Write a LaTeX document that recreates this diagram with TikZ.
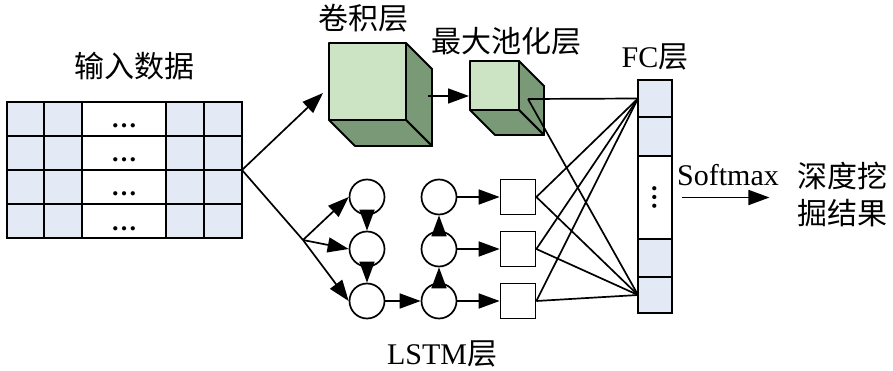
\documentclass[tikz,border=0pt]{standalone}
\usepackage{fontspec}
\setmainfont{Liberation Serif}
\newfontfamily\cjk{Noto Sans CJK SC}
\usetikzlibrary{arrows.meta, positioning}
\definecolor{colCell}{RGB}{227,234,246}
\definecolor{colFront}{RGB}{204,228,196}
\definecolor{colSide}{RGB}{122,153,118}

\begin{document}
\begin{tikzpicture}[
  x=1pt, y=-1pt,
  font=\fontsize{30}{37}\selectfont,
  arr/.style={-{Triangle[length=21pt, width=15pt]}, line width=1.7pt},
  link/.style={line width=1.7pt},
  cellbox/.style={draw, line width=2pt, fill=colCell, inner sep=0pt, outer sep=0pt},
  cellgap/.style={cellbox, fill=white},
  unit/.style={draw, circle, line width=1.7pt, minimum size=35pt, inner sep=0pt, fill=white},
  outbox/.style={draw, line width=1.7pt, minimum size=35pt, inner sep=0pt, fill=white},
  face/.style={draw, line width=1.9pt, line join=round},
  cn/.style={font=\fontsize{30}{37}\selectfont\cjk},
  dots/.style={font=\fontsize{26}{26}\selectfont\bfseries},
]
\useasboundingbox (0,0) rectangle (893,371);

% Input table
\foreach \r in {1,...,4} {
  \foreach \c/\x/\w in {1/25.5/37, 2/63/38, 4/185/38, 5/223/38} {
    \node[cellbox, minimum width=\w pt, minimum height=34pt] (in-\r-\c) at (\x, 85+34*\r) {};
  }
  \node[cellgap, minimum width=84pt, minimum height=34pt] (in-\r-3) at (124, 85+34*\r) {};
  \node[dots, anchor=base] at (124, 94+34*\r) {…};
}
\node[cn] (in-label) at (134,66) {输入数据};

% Conv and pooling cubes
\foreach \nm/\x/\y/\s/\d in {conv/329/43/77/26, pool/470/61/49/25} {
  \draw[face, fill=colSide] (\x+\s,\y) -- ++(\d,\d) -- ++(0,\s) -- ++(-\d,-\d) -- cycle;
  \draw[face, fill=colSide] (\x,\y+\s) -- ++(\s,0) -- ++(\d,\d) -- ++(-\s,0) -- cycle;
  \node[face, fill=colFront, minimum size=\s pt, inner sep=0pt, outer sep=0pt] (\nm) at (\x+\s/2, \y+\s/2) {};
}
\node[cn] (conv-label) at (363,18) {卷积层};
\node[cn] (pool-label) at (506,41) {最大池化层};
\coordinate (conv-in) at (323,93);
\coordinate (conv-out) at (428,96);
\coordinate (pool-in) at (469,96);
\coordinate (pool-out) at (528,99);

% LSTM units
\foreach \i/\y in {1/197, 2/249, 3/301} {
  \node[unit] (a\i) at (367,\y) {};
  \node[unit] (b\i) at (439,\y) {};
  \node[outbox] (s\i) at (518,\y) {};
}
\coordinate (split) at (303,240);
\node (lstm-label) at (442,354) {LSTM{\cjk 层}};

% FC column
\foreach \i/\y/\h in {1/98.5/37, 2/136.5/39, 4/258/38, 5/295/36} {
  \node[cellbox, minimum width=34pt, minimum height=\h pt] (fc\i) at (655,\y) {};
}
\node[cellgap, minimum width=34pt, minimum height=83pt] (fc3) at (655,197.5) {};
\node[dots, rotate=90] at (fc3) {…};
\node (fc-label) at (655,57) {FC{\cjk 层}};

% Output
\node[cn, align=center] (result) at (842,194) {深度挖\\掘结果};
\node (softmax) at (728,175) {Softmax};

% Connectors
\draw[link] (in-2-5.south east) -- (split);
\draw[arr] (in-2-5.south east) -- (conv-in);
\draw[arr] (conv-out) -- (pool-in);
\foreach \i in {1,2,3} {
  \draw[arr] (split) -- (a\i.west);
  \draw[arr] (b\i) -- (s\i);
}
\draw[arr] (a1) -- (a2);
\draw[arr] (a2) -- (a3);
\draw[arr] (a3) -- (b3);
\draw[arr] (b3) -- (b2);
\draw[arr] (b2) -- (b1);
\foreach \src in {pool-out, s1.east, s2.east, s3.east} {
  \draw[link] (\src) -- (fc1.west);
  \draw[link] (\src) -- (fc5.west);
}
\draw[arr] ([xshift=10pt]fc3.east) -- ([xshift=-24pt]result.west |- fc3.east);

\end{tikzpicture}
\end{document}
